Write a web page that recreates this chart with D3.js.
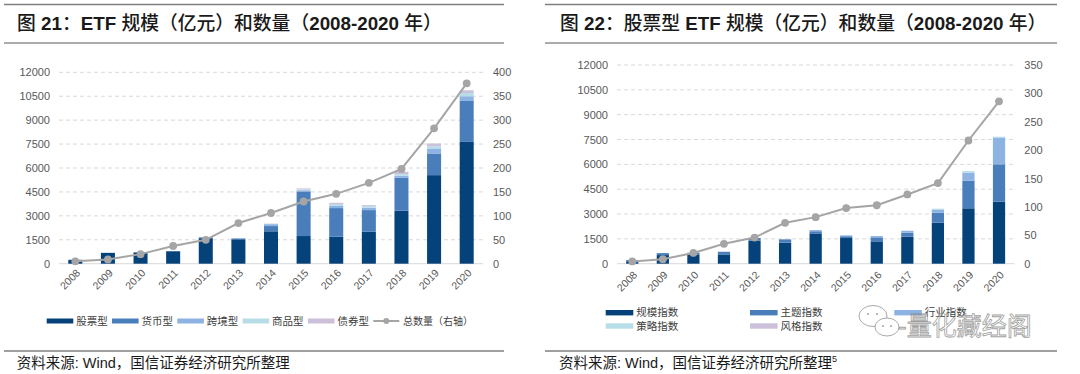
<!DOCTYPE html>
<html>
<head>
<meta charset="utf-8">
<script src="https://cdn.jsdelivr.net/npm/d3@7"></script>
<style>
  body { margin: 0; background: #fff; }
  svg text { font-family: "Liberation Sans", Arial, "Noto Sans CJK SC", sans-serif; }
  .tick text { font-size: 11px; fill: #595959; }
  .x-label { font-size: 10.5px; fill: #595959; }
  .legend-text { font-size: 10.5px; fill: #404040; font-family: "Noto Sans CJK SC", sans-serif; }
</style>
</head>
<body>
<div id="chart"></div>
<script>
// ---- data ----
const years = ['2008','2009','2010','2011','2012','2013','2014','2015','2016','2017','2018','2019','2020'];

// chart 21: all ETF, size by type (亿元) and count
const etfStock     = [230, 680, 700, 780, 1600, 1530, 2030, 1734, 1690, 2003, 3324, 5552, 7637];
const etfMoney     = [20, 0, 30, 15, 50, 60, 330, 2798, 1797, 1358, 2060, 1359, 2567];
const etfCross     = [0, 0, 0, 0, 0, 0, 120, 70, 130, 146, 125, 313, 294];
const etfCommodity = [0, 0, 0, 0, 0, 20, 30, 50, 120, 104, 106, 144, 206];
const etfBond      = [0, 0, 0, 0, 0, 0, 10, 68, 81, 63, 144, 169, 169];
const etfCount     = [5, 9, 20, 37, 50, 85, 106, 130, 146, 169, 198, 283, 377];
const etfNames     = ['股票型', '货币型', '跨境型', '商品型', '债券型'];

// chart 22: stock ETF, size by index type (亿元) and count
const idxScale    = [150, 520, 560, 560, 1390, 1270, 1830, 1550, 1350, 1630, 2476, 3346, 3744];
const idxTheme    = [70, 120, 100, 160, 160, 200, 130, 110, 240, 240, 604, 1667, 2259];
const idxIndustry = [0, 0, 0, 0, 0, 0, 70, 50, 80, 120, 163, 484, 1589];
const idxStrategy = [0, 0, 0, 0, 0, 0, 0, 0, 0, 0, 79, 100, 78];
const idxStyle    = [0, 0, 0, 0, 0, 0, 0, 0, 0, 0, 0, 0, 0];
const stockEtfCount = [4, 8, 19, 35, 46, 72, 82, 98, 103, 122, 142, 217, 286];
const idxNames    = ['规模指数', '主题指数', '行业指数', '策略指数', '风格指数'];

const leftTicks = [0, 1500, 3000, 4500, 6000, 7500, 9000, 10500, 12000];
const rightTicks1 = [0, 50, 100, 150, 200, 250, 300, 350, 400];
const rightTicks2 = [0, 50, 100, 150, 200, 250, 300, 350];

const colors = ['#06427a', '#4a7ebb', '#8db3e2', '#b7dee8', '#ccc0da'];
const lineColor = '#a5a5a5';

const svg = d3.select('#chart').append('svg')
    .attr('width', 1080)
    .attr('height', 374);

// text with CJK runs in regular Noto, latin runs in bold Liberation
function mixedText(g, x, y, str, size) {
    const t = g.append('text').attr('x', x).attr('y', y).style('font-size', size + 'px').attr('fill', '#1a1a1a');
    const runs = str.match(/[\u3000-\u9fff\uff00-\uffef]+|[^\u3000-\u9fff\uff00-\uffef]+/g);
    runs.forEach(r => {
        const cjk = /[\u3000-\u9fff\uff00-\uffef]/.test(r);
        t.append('tspan')
            .style('font-family', cjk ? '"Noto Sans CJK SC", sans-serif' : '"Liberation Sans", Arial, sans-serif')
            .style('font-weight', cjk ? 500 : 'bold')
            .attr('xml:space', 'preserve')
            .text(r);
    });
    return t;
}

function drawPanel(cfg) {
    const g = svg.append('g');

    // frame lines
    g.append('line').attr('x1', cfg.frame[0]).attr('x2', cfg.frame[1]).attr('y1', 4.5).attr('y2', 4.5)
        .attr('stroke', '#7f7f7f').attr('stroke-width', 1.5);
    g.append('line').attr('x1', cfg.frame[0]).attr('x2', cfg.frame[1]).attr('y1', 43).attr('y2', 43)
        .attr('stroke', '#595959').attr('stroke-width', 1);
    g.append('line').attr('x1', cfg.frame[0]).attr('x2', cfg.frame[1]).attr('y1', 351).attr('y2', 351)
        .attr('stroke', '#404040').attr('stroke-width', 1);

    mixedText(g, cfg.titleX, 29.5, cfg.title, 18.8);

    const src = g.append('text')
        .attr('x', cfg.srcX).attr('y', 368)
        .style('font-size', '14.5px')
        .attr('fill', '#1a1a1a')
        .text('资料来源: Wind，国信证券经济研究所整理');
    if (cfg.srcSup) {
        src.append('tspan').attr('dy', -6).style('font-size', '9px').text(cfg.srcSup);
    }

    const x = d3.scaleBand().domain(years).range(cfg.xRange).padding(0);
    const barW = x.bandwidth() * cfg.barRatio;
    const yL = d3.scaleLinear().domain([0, 12000]).range([263.7, cfg.yTop]);
    const yR = d3.scaleLinear().domain([0, cfg.rightMax]).range([263.7, cfg.yTop]);

    // gridlines
    g.append('g').selectAll('line').data(leftTicks.filter(d => d > 0)).join('line')
        .attr('x1', cfg.xRange[0]).attr('x2', cfg.xRange[1])
        .attr('y1', d => yL(d)).attr('y2', d => yL(d))
        .attr('stroke', '#d9d9d9').attr('stroke-dasharray', '4,3');
    g.append('line')
        .attr('x1', cfg.xRange[0]).attr('x2', cfg.xRange[1])
        .attr('y1', yL(0)).attr('y2', yL(0))
        .attr('stroke', '#d9d9d9');

    // axes labels
    const la = g.append('g').attr('transform', `translate(${cfg.xRange[0]},0)`)
        .call(d3.axisLeft(yL).tickValues(leftTicks).tickSize(0).tickPadding(9).tickFormat(d3.format('d')));
    la.select('.domain').remove();
    const ra = g.append('g').attr('transform', `translate(${cfg.xRange[1]},0)`)
        .call(d3.axisRight(yR).tickValues(cfg.rightTicks).tickSize(0).tickPadding(10).tickFormat(d3.format('d')));
    ra.select('.domain').remove();
    g.selectAll('.tick text').attr('font-family', null);

    g.append('g').selectAll('text').data(years).join('text')
        .attr('class', 'x-label')
        .attr('transform', d => `translate(${x(d) + x.bandwidth() / 2 + 3},${cfg.xLabelY}) rotate(-45)`)
        .attr('text-anchor', 'end')
        .attr('dy', '0.35em')
        .text(d => d);

    // stacked bars
    const rows = years.map((yr, i) => {
        const o = {year: yr};
        cfg.series.forEach((s, k) => { o['s' + k] = s[i]; });
        return o;
    });
    const stack = d3.stack().keys(cfg.series.map((s, k) => 's' + k))(rows);
    g.append('g').selectAll('g').data(stack).join('g')
        .attr('fill', (d, k) => colors[k])
        .selectAll('rect').data(d => d).join('rect')
            .attr('x', d => x(d.data.year) + (x.bandwidth() - barW) / 2)
            .attr('width', barW)
            .attr('y', d => yL(d[1]))
            .attr('height', d => yL(d[0]) - yL(d[1]));

    // count line
    const line = d3.line()
        .x((d, i) => x(years[i]) + x.bandwidth() / 2)
        .y(d => yR(d));
    g.append('path').datum(cfg.counts)
        .attr('d', line)
        .attr('fill', 'none')
        .attr('stroke', lineColor)
        .attr('stroke-width', 2);
    g.append('g').selectAll('circle').data(cfg.counts).join('circle')
        .attr('cx', (d, i) => x(years[i]) + x.bandwidth() / 2)
        .attr('cy', d => yR(d))
        .attr('r', 3.9)
        .attr('fill', lineColor);

    return g;
}

// ---- chart 21 ----
const g1 = drawPanel({
    frame: [4, 504],
    title: '图 21：ETF 规模（亿元）和数量（2008-2020 年）',
    titleX: 17,
    srcX: 16.7,
    xRange: [59, 483],
    barRatio: 0.43,
    yTop: 72.3,
    rightMax: 400,
    rightTicks: rightTicks1,
    xLabelY: 271,
    series: [etfStock, etfMoney, etfCross, etfCommodity, etfBond],
    counts: etfCount
});

const leg1 = g1.append('g');
etfNames.forEach((n, k) => {
    const lx = 46.7 + k * 65.3;
    leg1.append('rect').attr('x', lx).attr('y', 318.5).attr('width', 26.6).attr('height', 5).attr('fill', colors[k]);
    leg1.append('text').attr('class', 'legend-text').attr('x', lx + 29.5).attr('y', 321).attr('dy', '0.35em').text(n);
});
leg1.append('line').attr('x1', 373.3).attr('x2', 399.3).attr('y1', 321).attr('y2', 321)
    .attr('stroke', lineColor).attr('stroke-width', 2);
leg1.append('circle').attr('cx', 386.3).attr('cy', 321).attr('r', 3).attr('fill', lineColor);
leg1.append('text').attr('class', 'legend-text').attr('x', 403).attr('y', 321).attr('dy', '0.35em')
    .style('font-size', '10px').text('总数量（右轴）');

// ---- chart 22 ----
const g2 = drawPanel({
    frame: [545, 1057],
    title: '图 22：股票型 ETF 规模（亿元）和数量（2008-2020 年）',
    titleX: 560,
    srcX: 559,
    srcSup: '5',
    xRange: [617, 1014.3],
    barRatio: 0.4,
    yTop: 65,
    rightMax: 350,
    rightTicks: rightTicks2,
    xLabelY: 273,
    series: [idxScale, idxTheme, idxIndustry, idxStrategy, idxStyle],
    counts: stockEtfCount
});

const leg2 = g2.append('g');
idxNames.forEach((n, k) => {
    const lx = 605.7 + (k % 3) * 144.3;
    const ly = k < 3 ? 312.7 : 326;
    leg2.append('rect').attr('x', lx).attr('y', ly - 2.7).attr('width', 27.6).attr('height', 5.4).attr('fill', colors[k]);
    leg2.append('text').attr('class', 'legend-text').attr('x', lx + 30.5).attr('y', ly).attr('dy', '0.35em').text(n);
});

// watermark
const wm = svg.append('g').attr('opacity', 0.75);
wm.append('ellipse').attr('cx', 873).attr('cy', 316).attr('rx', 14).attr('ry', 10.5)
    .attr('fill', 'white').attr('stroke', '#8c8c8c').attr('stroke-width', 1);
wm.append('ellipse').attr('cx', 887).attr('cy', 327).attr('rx', 12).attr('ry', 9)
    .attr('fill', 'white').attr('stroke', '#8c8c8c').attr('stroke-width', 1);
[[868, 314], [877, 314], [883, 326], [891, 326]].forEach(p => {
    wm.append('circle').attr('cx', p[0]).attr('cy', p[1]).attr('r', 1.1).attr('fill', '#8c8c8c');
});
wm.append('text').attr('x', 898).attr('y', 335)
    .style('font-family', '"Noto Sans CJK SC", sans-serif')
    .style('font-size', '25px')
    .attr('fill', 'rgba(255,255,255,0.6)')
    .attr('stroke', '#7f7f7f').attr('stroke-width', 0.8)
    .text('-量化藏经阁');
</script>
</body>
</html>
